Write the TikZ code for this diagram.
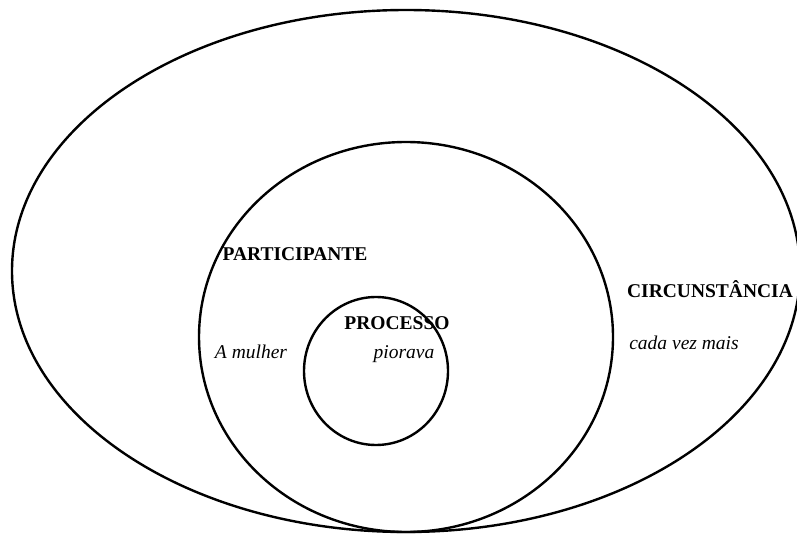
\documentclass[tikz,border=0pt]{standalone}
\usepackage{fontspec}
\setmainfont{Liberation Serif}
\begin{document}
\begin{tikzpicture}[x=1pt,y=-1pt,
  ring/.style={draw,line width=2.4pt},
  lab/.style={font=\fontsize{19.5}{22}\selectfont\bfseries,inner sep=0pt},
  ex/.style={font=\fontsize{19.5}{22}\selectfont\itshape,inner sep=0pt}]
\useasboundingbox (0,0) rectangle (797,534);
\draw[ring] (406,271) ellipse [x radius=394, y radius=261];
\draw[ring] (406,337) ellipse [x radius=207, y radius=195];
\draw[ring] (376,371) ellipse [x radius=72, y radius=74];
\node[lab] (part) at (295,254) {PARTICIPANTE};
\node[ex] (mulher) at (251,352) {A mulher};
\node[lab] (proc) at (397,323) {PROCESSO};
\node[ex] (piorava) at (404,354) {piorava};
\node[lab] (circ) at (710,289) {CIRCUNSTÂNCIA};
\node[ex] (cada) at (684,343) {cada vez mais};
\end{tikzpicture}
\end{document}
